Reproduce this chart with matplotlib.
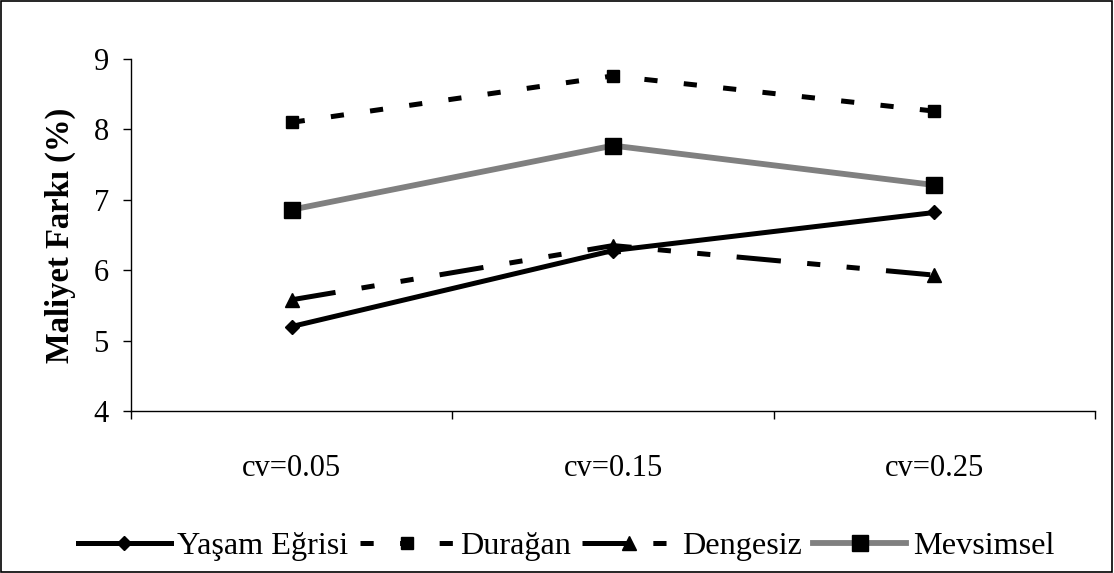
import matplotlib.pyplot as plt
from matplotlib.patches import Rectangle
from matplotlib.ticker import FixedLocator, NullFormatter, FixedFormatter

plt.rcParams['font.family'] = ['Liberation Serif', 'DejaVu Serif']
plt.rcParams['lines.scale_dashes'] = False

categories = ['cv=0.05', 'cv=0.15', 'cv=0.25']
yasam = [5.2, 6.28, 6.82]
duragan = [8.1, 8.76, 8.26]
dengesiz = [5.58, 6.35, 5.93]
mevsimsel = [6.86, 7.77, 7.21]

fig = plt.figure(figsize=(11.14, 5.73), dpi=100, facecolor='white')
fig.patches.append(Rectangle((0.0005, 0.001), 0.998, 0.997, transform=fig.transFigure,
                             fill=False, edgecolor='black', linewidth=1.2))
ax = fig.add_axes([0.1176, 0.2827, 0.8654, 0.6143])

x = range(len(categories))
ax.plot(x, yasam, color='black', linewidth=3.6, marker='D', markersize=7, label='Yaşam Eğrisi')
ax.plot(x, duragan, color='black', linewidth=3.6, dashes=(9.5, 19), marker='s', markersize=8.6,
        label='Durağan')
ax.plot(x, dengesiz, color='black', linewidth=3.6, dashes=(32, 19, 9.5, 19, 9.5, 19), marker='^',
        markersize=10, label='Dengesiz')
ax.plot(x, mevsimsel, color='#808080', linewidth=4.2, marker='s', markersize=11.5,
        markerfacecolor='black', markeredgecolor='black', label='Mevsimsel')

ax.set_xlim(-0.5, 2.5)
ax.set_ylim(4, 9)
ax.set_yticks([4, 5, 6, 7, 8, 9])
ax.xaxis.set_major_locator(FixedLocator([-0.5, 0.5, 1.5, 2.5]))
ax.xaxis.set_major_formatter(NullFormatter())
ax.xaxis.set_minor_locator(FixedLocator(list(x)))
ax.xaxis.set_minor_formatter(FixedFormatter(categories))
ax.tick_params(axis='x', which='major', length=6, width=1, direction='out')
ax.tick_params(axis='x', which='minor', length=0, pad=31, labelsize=22)
ax.tick_params(axis='y', length=6, width=1, direction='out', pad=10, labelsize=22)

for s in ['top', 'right']:
    ax.spines[s].set_visible(False)
for s in ['left', 'bottom']:
    ax.spines[s].set_linewidth(1)

ax.set_ylabel('Maliyet Farkı (%)', fontsize=23.5, fontweight='bold', va='center')
ax.yaxis.set_label_coords((60 - 131) / 964, 0.5)

fig.legend(loc='center', bbox_to_anchor=(0.508, 0.047), ncol=4, frameon=False, fontsize=23.2,
           handlelength=2.9, handletextpad=0.2, columnspacing=0.35, borderpad=0)

plt.savefig('out.png', dpi=100, facecolor='white')
